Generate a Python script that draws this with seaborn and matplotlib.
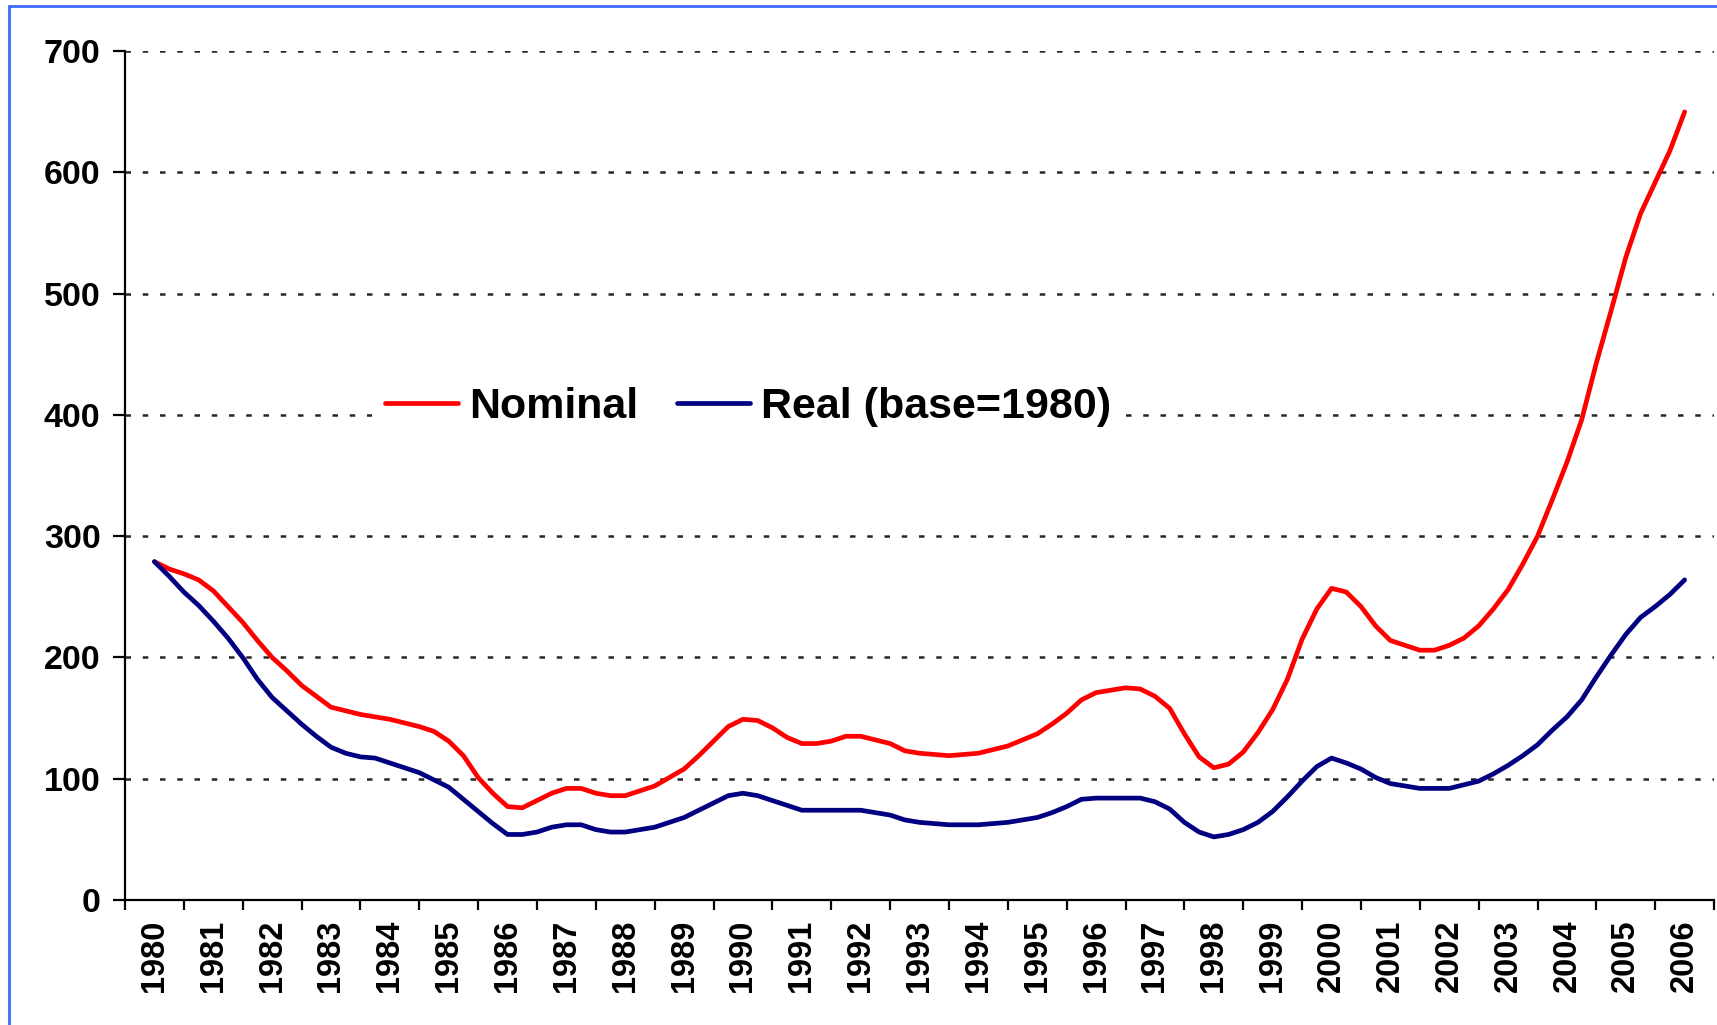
import numpy as np
import pandas as pd
import matplotlib.pyplot as plt
import seaborn as sns
from matplotlib.lines import Line2D

# Quarterly index values (mid-1980 to mid-2006)
years = list(range(1980, 2007))
quarters = np.arange(1980.5, 2006.51, 0.25)

nominal = [
    279, 273,
    269, 264, 255, 242,   # 1981
    229, 214, 200, 189,   # 1982
    177, 168, 159, 156,   # 1983
    153, 151, 149, 146,   # 1984
    143, 139, 131, 119,   # 1985
    101, 88, 77, 76,      # 1986
    82, 88, 92, 92,       # 1987
    88, 86, 86, 90,       # 1988
    94, 101, 108, 119,    # 1989
    131, 143, 149, 148,   # 1990
    142, 134, 129, 129,   # 1991
    131, 135, 135, 132,   # 1992
    129, 123, 121, 120,   # 1993
    119, 120, 121, 124,   # 1994
    127, 132, 137, 145,   # 1995
    154, 165, 171, 173,   # 1996
    175, 174, 168, 158,   # 1997
    137, 118, 109, 112,   # 1998
    122, 138, 157, 182,   # 1999
    215, 240, 257, 254,   # 2000
    242, 226, 214, 210,   # 2001
    206, 206, 210, 216,   # 2002
    226, 240, 256, 277,   # 2003
    300, 330, 361, 396,   # 2004
    443, 486, 530, 566,   # 2005
    592, 618, 650,        # 2006
]

real = [
    279, 267,
    254, 243, 230, 216,   # 1981
    200, 182, 167, 156,   # 1982
    145, 135, 126, 121,   # 1983
    118, 117, 113, 109,   # 1984
    105, 99, 93, 83,      # 1985
    73, 63, 54, 54,       # 1986
    56, 60, 62, 62,       # 1987
    58, 56, 56, 58,       # 1988
    60, 64, 68, 74,       # 1989
    80, 86, 88, 86,       # 1990
    82, 78, 74, 74,       # 1991
    74, 74, 74, 72,       # 1992
    70, 66, 64, 63,       # 1993
    62, 62, 62, 63,       # 1994
    64, 66, 68, 72,       # 1995
    77, 83, 84, 84,       # 1996
    84, 84, 81, 75,       # 1997
    64, 56, 52, 54,       # 1998
    58, 64, 73, 85,       # 1999
    98, 110, 117, 113,    # 2000
    108, 101, 96, 94,     # 2001
    92, 92, 92, 95,       # 2002
    98, 104, 111, 119,    # 2003
    128, 140, 151, 165,   # 2004
    184, 202, 219, 233,   # 2005
    242, 252, 264,        # 2006
]

series_names = ["Nominal", "Real (base=1980)"]
colors = {"Nominal": "#ff0000", "Real (base=1980)": "#000080"}

df = pd.DataFrame({"quarter": quarters, series_names[0]: nominal, series_names[1]: real})
long = df.melt(id_vars="quarter", var_name="series", value_name="index")

sns.set_style("white")
plt.rcParams['font.family'] = ['Liberation Sans', 'DejaVu Sans']
plt.rcParams['font.weight'] = 'bold'
plt.rcParams['text.color'] = 'black'
plt.rcParams['xtick.color'] = 'black'
plt.rcParams['ytick.color'] = 'black'

fig = plt.figure(figsize=(17.17, 10.25), dpi=100)
ax = fig.add_axes([0.0728, 0.122, 0.9255, 0.828])

sns.lineplot(data=long, x="quarter", y="index", hue="series", hue_order=series_names,
             palette=colors, linewidth=3.4, ax=ax, legend=False, estimator=None, sort=False)
for line in ax.lines:
    line.set_solid_joinstyle('round')
    line.set_solid_capstyle('round')

# axes
ax.set_xlim(1980, 2007)
ax.set_ylim(0, 700)
ax.set_xlabel("")
ax.set_ylabel("")
ax.set_yticks(range(0, 701, 100))
ax.set_xticks(range(1980, 2008))
ax.set_xticklabels([])
ax.set_xticks(np.array(years) + 0.5, minor=True)
ax.set_xticklabels([str(y) for y in years], minor=True, rotation=90, fontsize=23.5, fontweight='bold')
ax.tick_params(axis='x', which='minor', length=0, pad=14)
ax.tick_params(axis='x', which='major', length=7, width=1.6, direction='out', color='black', bottom=True)
ax.tick_params(axis='y', length=8.6, width=1.6, direction='out', color='black', labelsize=24.5, pad=9, left=True)
for lab in ax.get_yticklabels():
    lab.set_fontweight('bold')

for s in ["top", "right"]:
    ax.spines[s].set_visible(False)
for s in ["left", "bottom"]:
    ax.spines[s].set_color("black")
    ax.spines[s].set_linewidth(1.6)

ax.grid(True, axis='y', color='#262626', linewidth=1.8, linestyle=(0, (2.2, 4.7)), zorder=0)
ax.grid(False, axis='x')
ax.set_axisbelow(True)

handles = [Line2D([], [], color=colors[n], linewidth=3.4, solid_capstyle='round') for n in series_names]
leg = ax.legend(handles, series_names, loc='center', bbox_to_anchor=(0.392, 0.581), ncol=2,
                frameon=True, facecolor='white', edgecolor='none', framealpha=1,
                prop={'size': 31, 'weight': 'bold'}, handlelength=1.7, handletextpad=0.25,
                columnspacing=0.9, borderpad=0.3, borderaxespad=0)

# blue frame on left/top of the picture
fig.add_artist(Line2D([9 / 1717, 9 / 1717], [0, 1 - 6 / 1025], transform=fig.transFigure,
                      color='#3d6bff', linewidth=2))
fig.add_artist(Line2D([9 / 1717, 1], [1 - 6 / 1025, 1 - 6 / 1025], transform=fig.transFigure,
                      color='#3d6bff', linewidth=2))

fig.savefig("out.png", dpi=100)
